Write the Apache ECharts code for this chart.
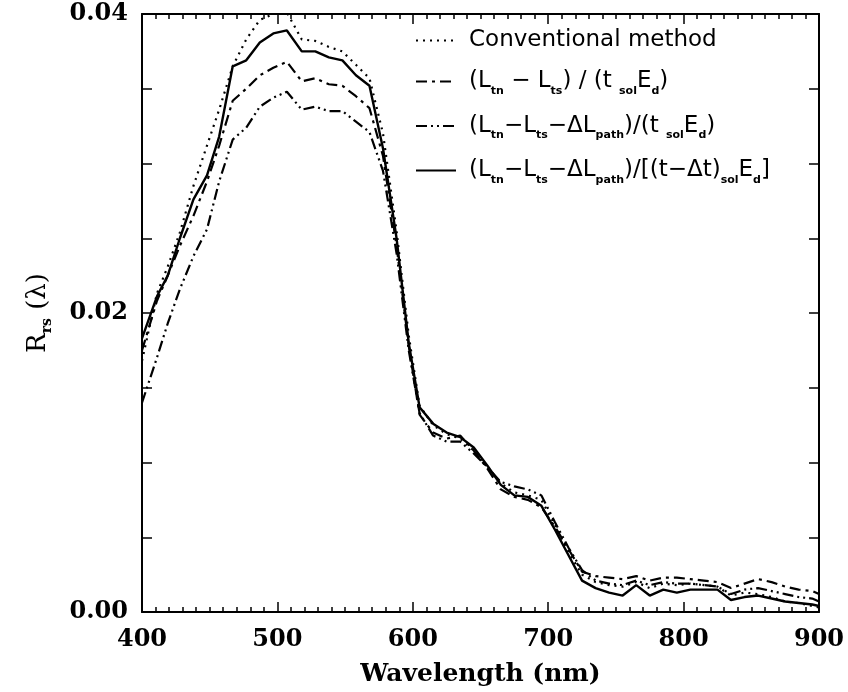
<!DOCTYPE html>
<html>
<head>
<meta charset="utf-8">
<script src="https://cdn.jsdelivr.net/npm/echarts@6/dist/echarts.min.js"></script>
<style>
  html, body { margin: 0; padding: 0; background: #fff; }
  #chart { width: 848px; height: 692px; }
</style>
</head>
<body>
<div id="chart"></div>
<script>
// wavelength (nm)
var wavelengths = [400, 411, 419, 428, 438, 448, 457, 467, 477, 487, 497, 507, 518, 528, 538, 548, 558, 568, 578, 588,
    597, 605, 615, 625, 635, 645, 655, 665, 675, 685, 695, 705, 715, 725, 735, 745, 755, 765, 775, 785,
    795, 805, 815, 825, 835, 845, 855, 865, 875, 885, 895, 900];

// Conventional method
var conventional = [0.0168, 0.0213, 0.0231, 0.0254, 0.0285, 0.0312, 0.0336, 0.0365, 0.0383, 0.0396, 0.0400, 0.0401, 0.0383, 0.0382, 0.0378, 0.0375, 0.0366, 0.0357, 0.0320, 0.0255,
    0.0185, 0.0138, 0.0125, 0.0119, 0.0116, 0.0108, 0.0097, 0.0086, 0.0080, 0.0078, 0.0075, 0.0058, 0.0040, 0.0025, 0.0020, 0.0018, 0.0017, 0.0020, 0.0016, 0.0019,
    0.0018, 0.0019, 0.0018, 0.0017, 0.0011, 0.0013, 0.0012, 0.0010, 0.0007, 0.0006, 0.0004, 0.0003];

// (Ltn - Lts) / (t sol Ed)
var ratio1 = [0.0175, 0.0208, 0.0225, 0.0245, 0.0265, 0.0288, 0.0312, 0.0342, 0.0350, 0.0359, 0.0364, 0.0368, 0.0355, 0.0357, 0.0353, 0.0352, 0.0345, 0.0337, 0.0305, 0.0245,
    0.0178, 0.0132, 0.0120, 0.0116, 0.0118, 0.0108, 0.0096, 0.0082, 0.0077, 0.0075, 0.0070, 0.0057, 0.0042, 0.0027, 0.0024, 0.0023, 0.0022, 0.0024, 0.0021, 0.0023,
    0.0023, 0.0022, 0.0021, 0.0020, 0.0016, 0.0019, 0.0022, 0.0020, 0.0017, 0.0015, 0.0014, 0.0012];

// (Ltn - Lts - dLpath) / (t sol Ed)
var ratio2 = [0.0140, 0.0170, 0.0193, 0.0216, 0.0238, 0.0256, 0.0288, 0.0316, 0.0324, 0.0338, 0.0344, 0.0348, 0.0336, 0.0338, 0.0335, 0.0335, 0.0328, 0.0321, 0.0295, 0.0240,
    0.0175, 0.0133, 0.0118, 0.0114, 0.0114, 0.0106, 0.0097, 0.0087, 0.0084, 0.0082, 0.0078, 0.0060, 0.0043, 0.0028, 0.0021, 0.0019, 0.0018, 0.0021, 0.0018, 0.0020,
    0.0019, 0.0019, 0.0018, 0.0017, 0.0012, 0.0015, 0.0016, 0.0014, 0.0012, 0.0010, 0.0009, 0.0007];

// (Ltn - Lts - dLpath) / [(t - dt) sol Ed]
var ratio3 = [0.0183, 0.0211, 0.0225, 0.0250, 0.0276, 0.0292, 0.0318, 0.0365, 0.0369, 0.0381, 0.0387, 0.0389, 0.0375, 0.0375, 0.0371, 0.0369, 0.0359, 0.0352, 0.0310, 0.0250,
    0.0180, 0.0137, 0.0126, 0.0120, 0.0117, 0.0110, 0.0098, 0.0085, 0.0078, 0.0077, 0.0071, 0.0055, 0.0038, 0.0021, 0.0016, 0.0013, 0.0011, 0.0018, 0.0011, 0.0015,
    0.0013, 0.0015, 0.0015, 0.0015, 0.0008, 0.0010, 0.0011, 0.0009, 0.0007, 0.0006, 0.0005, 0.0004];

var seriesNames = ['conv', 'r1', 'r2', 'r3'];
var legendLabels = {
    conv: '{g|}{m|Conventional method}',
    r1: '{g|}{m|(L}{s|tn}{m| \u2212 L}{s|ts}{m|) / (t }{s|sol}{m|E}{s|d}{m|)}',
    r2: '{g|}{m|(L}{s|tn}{m|\u2212L}{s|ts}{m|\u2212\u0394L}{s|path}{m|)/(t }{s|sol}{m|E}{s|d}{m|)}',
    r3: '{g|}{m|(L}{s|tn}{m|\u2212L}{s|ts}{m|\u2212\u0394L}{s|path}{m|)/[(t\u2212\u0394t)}{s|sol}{m|E}{s|d}{m|]}'
};

function pairs(ys) {
    var out = [];
    for (var i = 0; i < wavelengths.length; i++) {
        out.push([wavelengths[i], ys[i]]);
    }
    return out;
}

function lineSeries(name, ys, dash, width) {
    return {
        name: name,
        type: 'line',
        symbol: 'none',
        data: pairs(ys),
        lineStyle: { color: '#000', width: width, type: dash },
        itemStyle: { color: '#000' }
    };
}

var myChart = echarts.init(document.getElementById('chart'), null, { renderer: 'canvas' });

var serifFont = '"DejaVu Serif", serif';
var sansFont = '"DejaVu Sans", sans-serif';

var xCommon = {
    type: 'value',
    min: 400,
    max: 900,
    interval: 100,
    axisLine: { show: true, onZero: false, lineStyle: { color: '#000', width: 2 } },
    axisTick: { show: true, inside: true, length: 10, lineStyle: { color: '#000', width: 1.5 } },
    minorTick: { show: true, splitNumber: 10, length: 5, lineStyle: { color: '#000', width: 1.5 } },
    splitLine: { show: false }
};

var yCommon = {
    type: 'value',
    min: 0,
    max: 0.04,
    interval: 0.005,
    axisLine: { show: true, onZero: false, lineStyle: { color: '#000', width: 2 } },
    axisTick: { show: true, inside: true, length: 10, lineStyle: { color: '#000', width: 1.5 } },
    splitLine: { show: false }
};

var option = {
    backgroundColor: '#fff',
    animation: false,
    grid: { left: 142, right: 29, top: 14, bottom: 79 },
    legend: {
        orient: 'vertical',
        left: 410,
        top: 24,
        itemWidth: 40,
        itemHeight: 14,
        itemGap: 18,
        data: seriesNames,
        itemStyle: { opacity: 0 },
        formatter: function (name) { return legendLabels[name]; },
        textStyle: {
            color: '#000',
            rich: {
                g: { width: 8 },
                m: { fontFamily: sansFont, fontSize: 23, color: '#000', lineHeight: 30, verticalAlign: 'middle' },
                s: { fontFamily: sansFont, fontSize: 11, fontWeight: 'bold', color: '#000', lineHeight: 12, verticalAlign: 'bottom' }
            }
        }
    },
    xAxis: [
        Object.assign({}, xCommon, {
            position: 'bottom',
            name: 'Wavelength (nm)',
            nameLocation: 'middle',
            nameGap: 50,
            nameTextStyle: { fontFamily: serifFont, fontSize: 25, fontWeight: 'bold', color: '#000' },
            axisLabel: { margin: 16, fontFamily: serifFont, fontSize: 24, fontWeight: 'bold', color: '#000' }
        }),
        Object.assign({}, xCommon, {
            position: 'top',
            axisLabel: { show: false }
        })
    ],
    yAxis: [
        Object.assign({}, yCommon, {
            position: 'left',
            name: '{m|R}{s|rs}{m| (\u03bb)}',
            nameLocation: 'middle',
            nameRotate: 90,
            nameGap: 88,
            nameTextStyle: {
                rich: {
                    m: { fontFamily: serifFont, fontSize: 26, color: '#000', lineHeight: 32, verticalAlign: 'middle' },
                    s: { fontFamily: serifFont, fontSize: 14, fontWeight: 'bold', color: '#000', lineHeight: 14, verticalAlign: 'bottom' }
                }
            },
            axisLabel: {
                margin: 14,
                fontFamily: serifFont,
                fontSize: 24,
                fontWeight: 'bold',
                color: '#000',
                formatter: function (v) {
                    var k = Math.round(v / 0.005);
                    if (k % 4 !== 0) return '';
                    return (k * 0.005).toFixed(2);
                }
            }
        }),
        Object.assign({}, yCommon, {
            position: 'right',
            axisLabel: { show: false }
        })
    ],
    series: [
        lineSeries('conv', conventional, [2, 5], 2.2),
        lineSeries('r1', ratio1, [11, 5, 3, 5], 2.2),
        lineSeries('r2', ratio2, [11, 4, 2, 4, 2, 4], 2.2),
        lineSeries('r3', ratio3, 'solid', 2.4)
    ]
};

myChart.setOption(option);
</script>
</body>
</html>
